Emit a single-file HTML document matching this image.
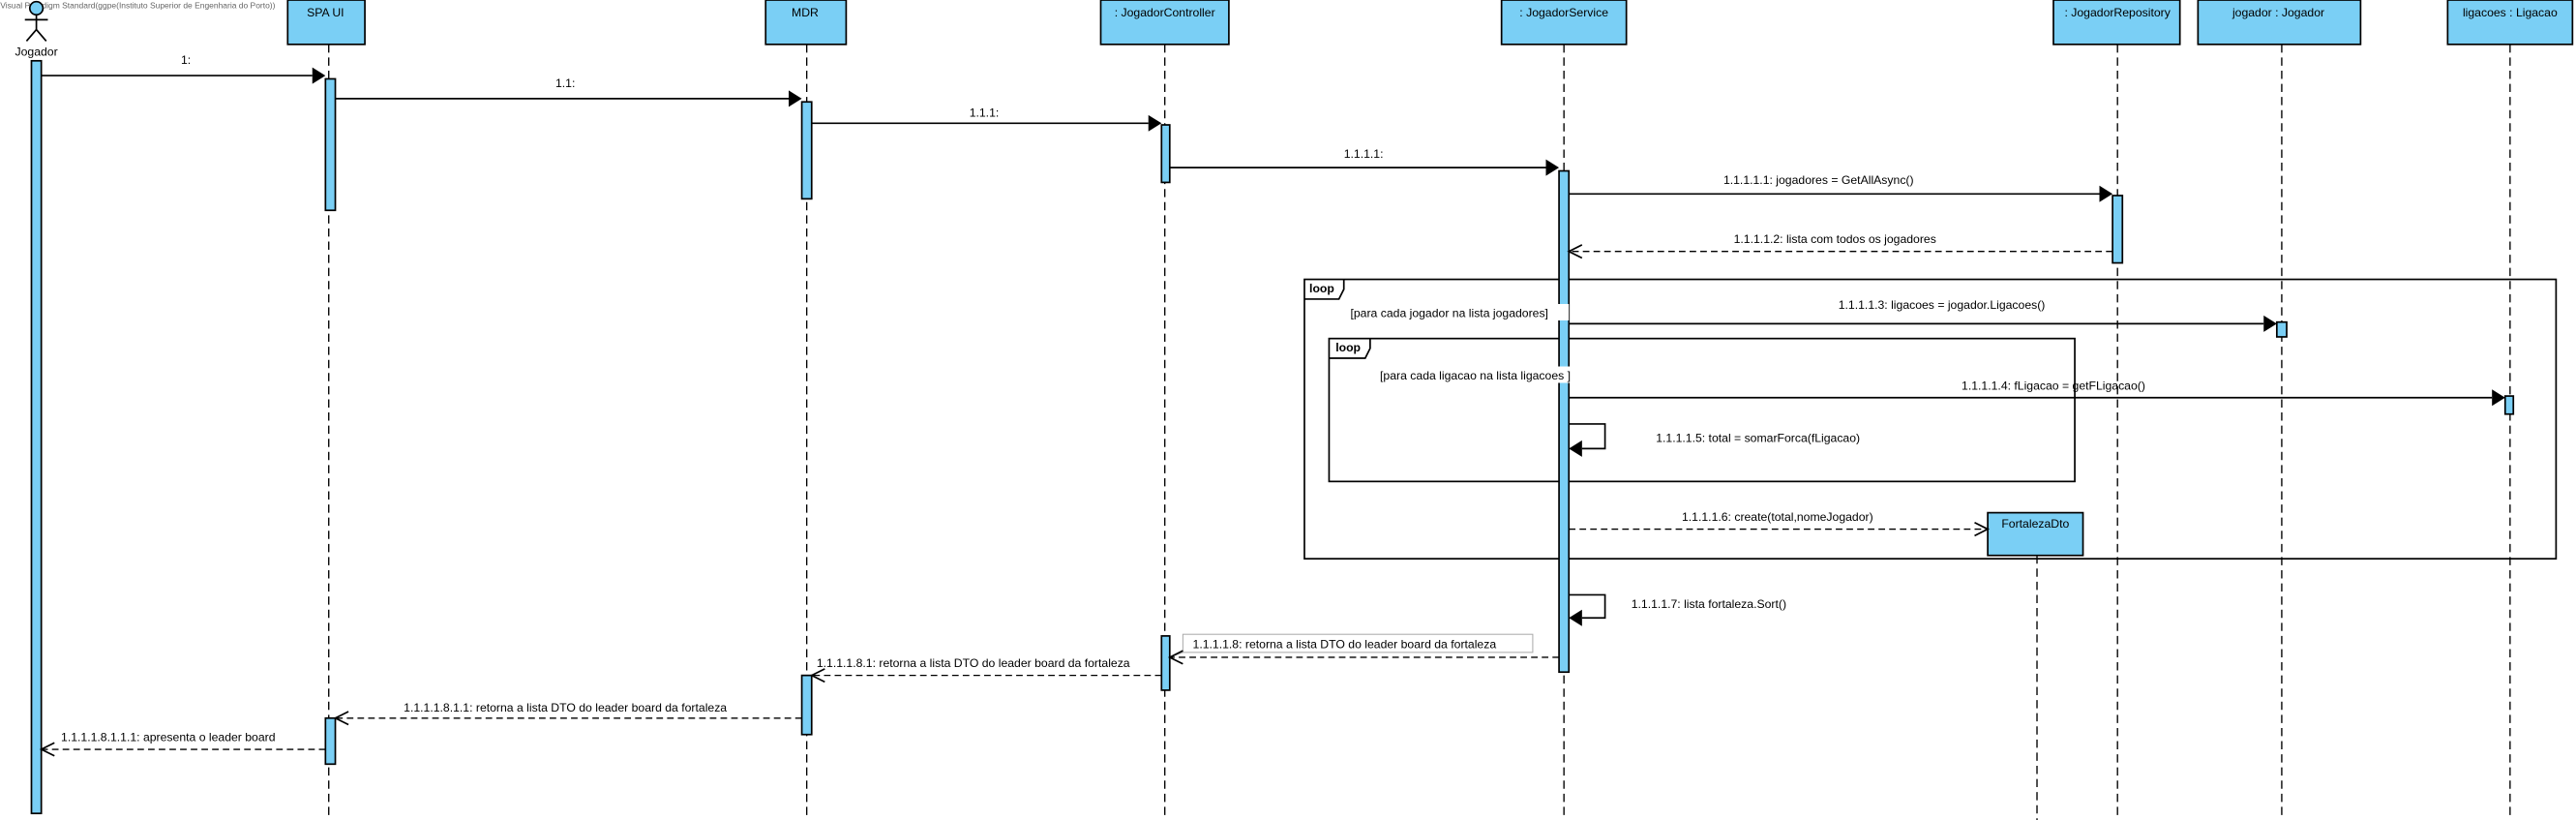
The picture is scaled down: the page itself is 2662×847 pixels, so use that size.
<!DOCTYPE html>
<html><head><meta charset="utf-8"><style>
html,body{margin:0;padding:0;background:#fff;}
svg{display:block;}
text{font-family:"Liberation Sans",sans-serif;font-size:7.2px;fill:#000;}
.b{fill:#7ACFF5;stroke:#000;stroke-width:1;}
.ll{stroke:#000;stroke-width:0.8;stroke-dasharray:5,3;fill:none;}
.m{stroke:#000;stroke-width:1;fill:none;}
.d{stroke:#000;stroke-width:0.8;stroke-dasharray:4,2.5;fill:none;}
.f{stroke:#000;stroke-width:1;fill:none;}
</style></head><body>
<svg width="2662" height="847" viewBox="0 0 1568 499" xmlns="http://www.w3.org/2000/svg">
<rect width="1568" height="499" fill="#fff"/>
<text x="0" y="5" style="font-size:5px;fill:#666">Visual Paradigm Standard(ggpe(Instituto Superior de Engenharia do Porto))</text>
<!-- lifelines -->
<line class="ll" x1="200" y1="27" x2="200" y2="499"/>
<line class="ll" x1="491" y1="27" x2="491" y2="499"/>
<line class="ll" x1="709" y1="27" x2="709" y2="499"/>
<line class="ll" x1="952" y1="27" x2="952" y2="499"/>
<line class="ll" x1="1289" y1="27" x2="1289" y2="499"/>
<line class="ll" x1="1389" y1="27" x2="1389" y2="499"/>
<line class="ll" x1="1528" y1="27" x2="1528" y2="499"/>
<line class="ll" x1="1240" y1="338" x2="1240" y2="499"/>
<!-- loops -->
<rect class="f" x="794" y="170" width="762" height="170"/>
<path class="f" d="M794 182 H815 L818 176 V170"/>
<text x="797" y="178" style="font-weight:bold">loop</text>
<rect class="f" x="809" y="206" width="454" height="87"/>
<path class="f" d="M809 218 H831 L834 212 V206"/>
<text x="813" y="214" style="font-weight:bold">loop</text>
<!-- actor -->
<circle cx="22" cy="5" r="4" class="b"/>
<line class="m" x1="22" y1="9" x2="22" y2="18"/>
<line class="m" x1="15" y1="12" x2="29" y2="12"/>
<path class="m" d="M16 25 L22 18 L28 25"/>
<text x="22" y="34" text-anchor="middle">Jogador</text>
<!-- header boxes -->
<rect class="b" x="175" y="0" width="47" height="27"/><text x="198" y="10" text-anchor="middle">SPA UI</text>
<rect class="b" x="466" y="0" width="49" height="27"/><text x="490" y="10" text-anchor="middle">MDR</text>
<rect class="b" x="670" y="0" width="78" height="27"/><text x="709" y="10" text-anchor="middle">: JogadorController</text>
<rect class="b" x="914" y="0" width="76" height="27"/><text x="952" y="10" text-anchor="middle">: JogadorService</text>
<rect class="b" x="1250" y="0" width="77" height="27"/><text x="1289" y="10" text-anchor="middle">: JogadorRepository</text>
<rect class="b" x="1338" y="0" width="99" height="27"/><text x="1387" y="10" text-anchor="middle">jogador : Jogador</text>
<rect class="b" x="1490" y="0" width="76" height="27"/><text x="1528" y="10" text-anchor="middle">ligacoes : Ligacao</text>
<rect class="b" x="1210" y="312" width="58" height="26"/><text x="1239" y="321" text-anchor="middle">FortalezaDto</text>
<!-- activations -->
<rect class="b" x="19" y="37" width="6" height="458"/>
<rect class="b" x="198" y="48" width="6" height="80"/>
<rect class="b" x="198" y="437" width="6" height="28"/>
<rect class="b" x="488" y="62" width="6" height="59"/>
<rect class="b" x="488" y="411" width="6" height="36"/>
<rect class="b" x="707" y="76" width="5" height="35"/>
<rect class="b" x="707" y="387" width="5" height="33"/>
<rect class="b" x="949" y="104" width="6" height="305"/>
<rect class="b" x="1286" y="119" width="6" height="41"/>
<rect class="b" x="1386" y="196" width="6" height="9"/>
<rect class="b" x="1525" y="241" width="5" height="11"/>
<!-- guards on top -->
<rect x="820" y="185" width="135" height="10" fill="#fff"/>
<text x="822" y="193">[para cada jogador na lista jogadores]</text>
<rect x="838" y="223" width="127" height="10" fill="#fff"/>
<text x="840" y="231">[para cada ligacao na lista ligacoes ]</text>
<!-- messages -->
<g>
<line class="m" x1="25" y1="46" x2="190" y2="46"/><path d="M190 41 L198 46 L190 51Z"/>
<text x="110" y="39">1:</text>
<line class="m" x1="204" y1="60" x2="480" y2="60"/><path d="M480 55 L488 60 L480 65Z"/>
<text x="338" y="53">1.1:</text>
<line class="m" x1="494" y1="75" x2="699" y2="75"/><path d="M699 70 L707 75 L699 80Z"/>
<text x="590" y="71">1.1.1:</text>
<line class="m" x1="712" y1="102" x2="941" y2="102"/><path d="M941 97 L949 102 L941 107Z"/>
<text x="818" y="96">1.1.1.1:</text>
<line class="m" x1="955" y1="118" x2="1278" y2="118"/><path d="M1278 113 L1286 118 L1278 123Z"/>
<text x="1107" y="112" text-anchor="middle">1.1.1.1.1: jogadores = GetAllAsync()</text>
<line class="d" x1="1286" y1="153" x2="956" y2="153"/><path class="m" d="M963 149 L955 153 L963 157"/>
<text x="1117" y="148" text-anchor="middle">1.1.1.1.2: lista com todos os jogadores</text>
<line class="m" x1="955" y1="197" x2="1378" y2="197"/><path d="M1378 192 L1386 197 L1378 202Z"/>
<text x="1182" y="188" text-anchor="middle">1.1.1.1.3: ligacoes = jogador.Ligacoes()</text>
<line class="m" x1="955" y1="242" x2="1517" y2="242"/><path d="M1517 237 L1525 242 L1517 247Z"/>
<text x="1250" y="237" text-anchor="middle">1.1.1.1.4: fLigacao = getFLigacao()</text>
<path class="m" d="M955 258 H977 V273 H963"/><path d="M963 268 L955 273 L963 278Z"/>
<text x="1008" y="269">1.1.1.1.5: total = somarForca(fLigacao)</text>
<line class="d" x1="955" y1="322" x2="1209" y2="322"/><path class="m" d="M1202 318 L1210 322 L1202 326"/>
<text x="1082" y="317" text-anchor="middle">1.1.1.1.6: create(total,nomeJogador)</text>
<path class="m" d="M955 362 H977 V376 H963"/><path d="M963 371 L955 376 L963 381Z"/>
<text x="993" y="370">1.1.1.1.7: lista  fortaleza.Sort()</text>
<rect x="720" y="386" width="213" height="11" fill="#fff" stroke="#aaa" stroke-width="0.6"/>
<line x1="720" y1="397" x2="712" y2="400" stroke="#aaa" stroke-width="0.6"/>
<text x="726" y="394.5">1.1.1.1.8: retorna a lista DTO do leader board da fortaleza</text>
<line class="d" x1="949" y1="400" x2="713" y2="400"/><path class="m" d="M720 396 L712 400 L720 404"/>
<text x="497" y="406">1.1.1.1.8.1: retorna a lista DTO do leader board da fortaleza</text>
<line class="d" x1="707" y1="411" x2="495" y2="411"/><path class="m" d="M502 407 L494 411 L502 415"/>
<text x="344" y="433" text-anchor="middle">1.1.1.1.8.1.1: retorna a lista DTO do leader board da fortaleza</text>
<line class="d" x1="488" y1="437" x2="205" y2="437"/><path class="m" d="M212 433 L204 437 L212 441"/>
<text x="37" y="451">1.1.1.1.8.1.1.1: apresenta o leader board</text>
<line class="d" x1="198" y1="456" x2="26" y2="456"/><path class="m" d="M33 452 L25 456 L33 460"/>
</g>
</svg>
</body></html>
